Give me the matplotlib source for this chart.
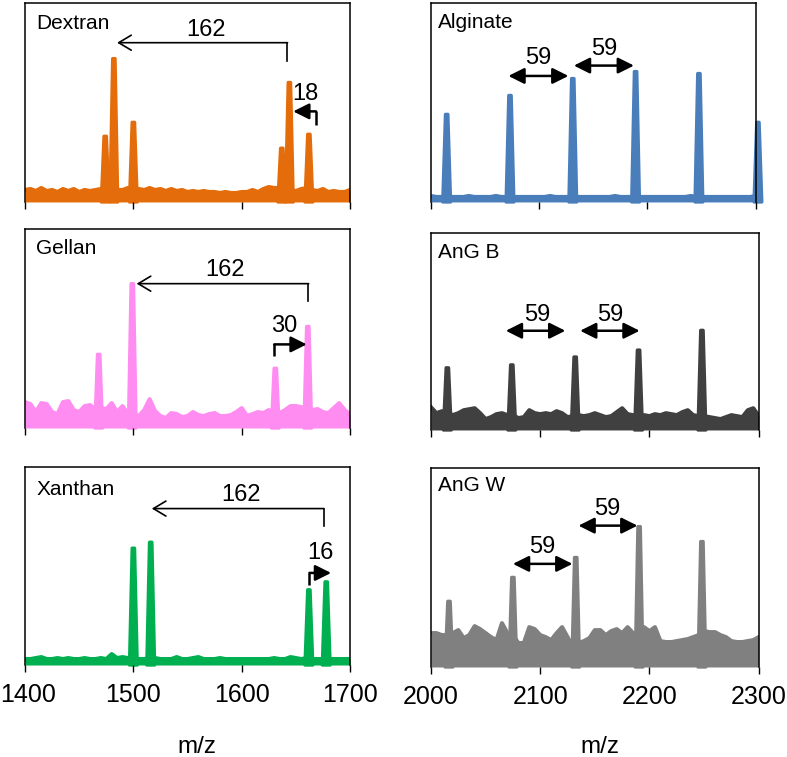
import numpy as np
import matplotlib
matplotlib.use("Agg")
import matplotlib.pyplot as plt
import matplotlib.transforms as mtransforms

plt.rcParams["font.family"] = ["Liberation Sans", "DejaVu Sans"]

# m/z grids for the baseline readings (every 5 units)
mz_low = np.arange(1400, 1701, 5)
mz_high = np.arange(2000, 2301, 5)

# baseline intensities (0-100 scale)
dextran_base = [6, 6.5, 5.5, 7, 5.5, 6, 5, 6.5, 5.5, 6.5, 5, 6, 5.5, 6, 6.5, 7, 7, 6, 6, 7,
                7, 6.5, 6, 7, 6, 6.5, 5.5, 6.5, 5.5, 6, 5, 5.5, 5, 5.5, 5, 5, 4.5, 5, 4.5, 4.5,
                5, 5, 6, 5, 6.5, 7.5, 7, 7, 7, 6, 5.5, 6.5, 7, 6, 5.5, 6.5, 5, 5.5, 5, 5, 6]
gellan_base = [13, 12, 8, 12.5, 12, 8, 7, 13, 13.5, 9, 8, 11, 11.5, 9.5, 10, 9.5, 12.5, 8, 11, 7,
               7, 6, 9, 14.5, 8.5, 6, 5, 7.5, 7, 5.5, 6, 8, 6.5, 6, 7, 7.5, 6, 6, 6.5, 8,
               10, 6, 7, 8, 7.5, 9, 8, 7.5, 9, 11, 11, 10.5, 9, 9, 9.5, 8, 7.5, 10, 12.5, 9, 7]
xanthan_base = [3, 3, 3.5, 4, 3, 3, 3.5, 3, 3.5, 3, 3, 3.5, 3, 3, 3.5, 3, 5.5, 3.5, 4, 3.5,
                3.5, 3, 3, 3.5, 3.5, 3, 3, 3, 4, 3, 3, 3.5, 4, 3, 3, 3, 3.5, 3, 3, 3,
                3, 3, 3, 3, 3, 3, 3.5, 3, 3, 4, 3.5, 3, 3.5, 3, 3, 3, 3, 3, 3, 3, 3]
alginate_base = [3, 2.5, 2.5, 3, 2.5, 2.5, 2.5, 3, 2.5, 2.5, 2.5, 2.5, 3, 2.5, 2.5, 2.5, 2.5, 2.5, 2.5, 2.5,
                 2.5, 2.5, 3, 2.5, 2.5, 2.5, 2.5, 2.5, 2.5, 2.5, 2.5, 2.5, 2.5, 2.5, 3, 2.5, 2.5, 2.5, 2.5, 2.5,
                 2.5, 2.5, 2.5, 2.5, 2.5, 2.5, 2.5, 2.5, 3, 2.5, 2.5, 2.5, 2.5, 2.5, 2.5, 2.5, 2.5, 2.5, 2.5, 2.5, 3]
angb_base = [11.5, 8.5, 9.5, 9, 7.5, 8.5, 10, 10.5, 11, 8.5, 5.5, 6.5, 8, 8.5, 7.5, 7.5, 6, 6.5, 10, 8.5,
             8, 8.5, 8, 9.5, 8.5, 6.5, 7, 7.5, 7, 7.5, 8.5, 7.5, 6.5, 7, 9, 11, 8, 7.5, 7, 7.5,
             7, 8, 7.5, 8.5, 8, 7.5, 9, 10, 7.5, 7, 7, 6.5, 6, 5.5, 6.5, 7.5, 7, 6.5, 10, 11, 7]
angw_base = [17, 17, 16, 16, 17, 18.5, 14.5, 16, 20.5, 19, 17, 15, 13.5, 22, 17, 16, 12, 12, 20, 19,
             16, 15, 13.5, 17, 20, 15, 10, 12, 13, 14.5, 18.5, 18.5, 16, 18, 19, 17, 20, 17, 16, 20,
             18, 20, 13, 12.5, 12.5, 13, 13.5, 14, 15, 16, 18, 17.5, 17.5, 16, 15, 13, 12.5, 12.5, 13, 13.5, 15]

# peak positions (m/z) and heights
dextran_mz = [1474, 1482, 1500, 1637, 1644, 1662]
dextran_int = [34, 73, 41, 28, 61, 35]
gellan_mz = [1468, 1499, 1631, 1661]
gellan_int = [38, 73.5, 31, 52]
xanthan_mz = [1500, 1516, 1662, 1678]
xanthan_int = [60, 63, 39, 43]
alginate_mz = [2014.5, 2073, 2131, 2189, 2247.5, 2302]
alginate_int = [45, 54.5, 63, 66.5, 65.5, 41]
angb_mz = [2015, 2074, 2132, 2190, 2248]
angb_int = [32.5, 34, 38, 41.5, 51.5]
angw_mz = [2016.5, 2075, 2132.5, 2190.5, 2248]
angw_int = [34, 46, 56, 71.5, 64]


def draw_spectrum(ax, mz, base, peaks, heights, color):
    ax.fill_between(mz, 0, base, color=color, lw=0)
    ax.plot(mz, base, color=color, lw=3, solid_joinstyle="round")
    for p, h in zip(peaks, heights):
        ax.fill([p - 3.6, p - 1.1, p + 1.1, p + 3.6], [0, h - 1, h - 1, 0], color=color,
                ec=color, lw=2.4, joinstyle="round", clip_on=False)


def setup(ax, lo, hi, name, ny, show_labels):
    ax.set_xlim(lo, hi)
    ax.set_ylim(0, 100)
    ax.set_yticks([])
    ax.set_xticks(np.arange(lo, hi + 1, 100))
    ax.spines["bottom"].set_visible(False)
    for s in ["top", "left", "right"]:
        ax.spines[s].set_linewidth(1.1)
    ax.tick_params(axis="x", direction="out", length=5, width=1, pad=8,
                   labelsize=18, labelbottom=show_labels)
    ax.text(0.035 if lo < 2000 else 0.022, ny, name, transform=ax.transAxes,
            ha="left", va="center", fontsize=15)


def long_arrow(ax, x0, ylow, x1, y, label, tx, ty):
    ax.plot([x0, x0], [ylow, y], color="k", lw=1.2)
    ax.annotate("", xy=(x1, y), xytext=(x0 + 0.3, y),
                arrowprops=dict(arrowstyle="->,head_length=0.5,head_width=0.3",
                                mutation_scale=18, color="k", lw=1.2,
                                shrinkA=0, shrinkB=0))
    ax.text(tx, ty, label, ha="center", va="center", fontsize=17)


def short_arrow(ax, x0, ylow, x1, y, label, tx, ty):
    ax.plot([x0, x0], [ylow, y], color="k", lw=1.8, solid_capstyle="butt")
    ax.annotate("", xy=(x1, y), xytext=(x0, y),
                arrowprops=dict(arrowstyle="-|>,head_length=0.6,head_width=0.3",
                                mutation_scale=16, color="k", lw=1.8,
                                shrinkA=0, shrinkB=0))
    ax.text(tx, ty, label, ha="center", va="center", fontsize=17)


def double_arrow(ax, x0, x1, y, label, tx, ty):
    ax.annotate("", xy=(x1, y), xytext=(x0, y),
                arrowprops=dict(arrowstyle="<|-|>,head_length=0.6,head_width=0.3",
                                mutation_scale=16, color="k", lw=1.8,
                                shrinkA=0, shrinkB=0))
    ax.text(tx, ty, label, ha="center", va="center", fontsize=17)


fig = plt.figure(figsize=(7.87, 7.57), dpi=100)

ax1 = fig.add_axes([0.0318, 0.7332, 0.413, 0.263])
ax2 = fig.add_axes([0.0318, 0.4346, 0.413, 0.263])
ax3 = fig.add_axes([0.0318, 0.1215, 0.413, 0.2616])
ax4 = fig.add_axes([0.5476, 0.7332, 0.4127, 0.263])
ax5 = fig.add_axes([0.5476, 0.432, 0.4165, 0.2606])
ax6 = fig.add_axes([0.5476, 0.1189, 0.4165, 0.263])

draw_spectrum(ax1, mz_low, dextran_base, dextran_mz, dextran_int, "#E46C0A")
draw_spectrum(ax2, mz_low, gellan_base, gellan_mz, gellan_int, "#FF8CF0")
draw_spectrum(ax3, mz_low, xanthan_base, xanthan_mz, xanthan_int, "#00B050")
draw_spectrum(ax4, mz_high, alginate_base, alginate_mz, alginate_int, "#4A7EBB")
draw_spectrum(ax5, mz_high, angb_base, angb_mz, angb_int, "#404040")
draw_spectrum(ax6, mz_high, angw_base, angw_mz, angw_int, "#808080")

setup(ax1, 1400, 1700, "Dextran", 0.895, False)
setup(ax2, 1400, 1700, "Gellan", 0.9, False)
setup(ax3, 1400, 1700, "Xanthan", 0.885, True)
setup(ax4, 2000, 2300, "Alginate", 0.9, False)
setup(ax5, 2000, 2300, "AnG B", 0.9, False)
setup(ax6, 2000, 2300, "AnG W", 0.91, True)

# the "1400" label sits right at the figure edge; nudge it in a little
first = ax3.xaxis.get_major_ticks()[0].label1
first.set_transform(first.get_transform()
                    + mtransforms.ScaledTranslation(3 / 100, 0, fig.dpi_scale_trans))

long_arrow(ax1, 1642, 71, 1485, 80, "162", 1567, 86.5)
short_arrow(ax1, 1668.5, 38.5, 1647.5, 45.5, "18", 1659, 54)
long_arrow(ax2, 1661.5, 64, 1503, 72.5, "162", 1585, 79.5)
short_arrow(ax2, 1630, 36, 1660, 42, "30", 1639, 51)
long_arrow(ax3, 1675.5, 70, 1517, 79, "162", 1599, 86)
short_arrow(ax3, 1662.5, 40.5, 1682.5, 46.5, "16", 1673, 56.5)

double_arrow(ax4, 2071.5, 2127, 63.3, "59", 2099, 72.5)
double_arrow(ax4, 2132, 2187.5, 68.5, "59", 2160, 77)
double_arrow(ax5, 2068.5, 2123, 50.3, "59", 2097, 58.5)
double_arrow(ax5, 2136.5, 2191, 50.3, "59", 2164, 58.5)
double_arrow(ax6, 2075, 2129.5, 51.8, "59", 2102, 60.5)
double_arrow(ax6, 2135, 2189, 71, "59", 2161, 79.5)

fig.text(197 / 787, 1 - 747 / 757, "m/z", ha="center", va="center", fontsize=17.5)
fig.text(600 / 787, 1 - 747 / 757, "m/z", ha="center", va="center", fontsize=17.5)

fig.savefig("out.png", dpi=100)
